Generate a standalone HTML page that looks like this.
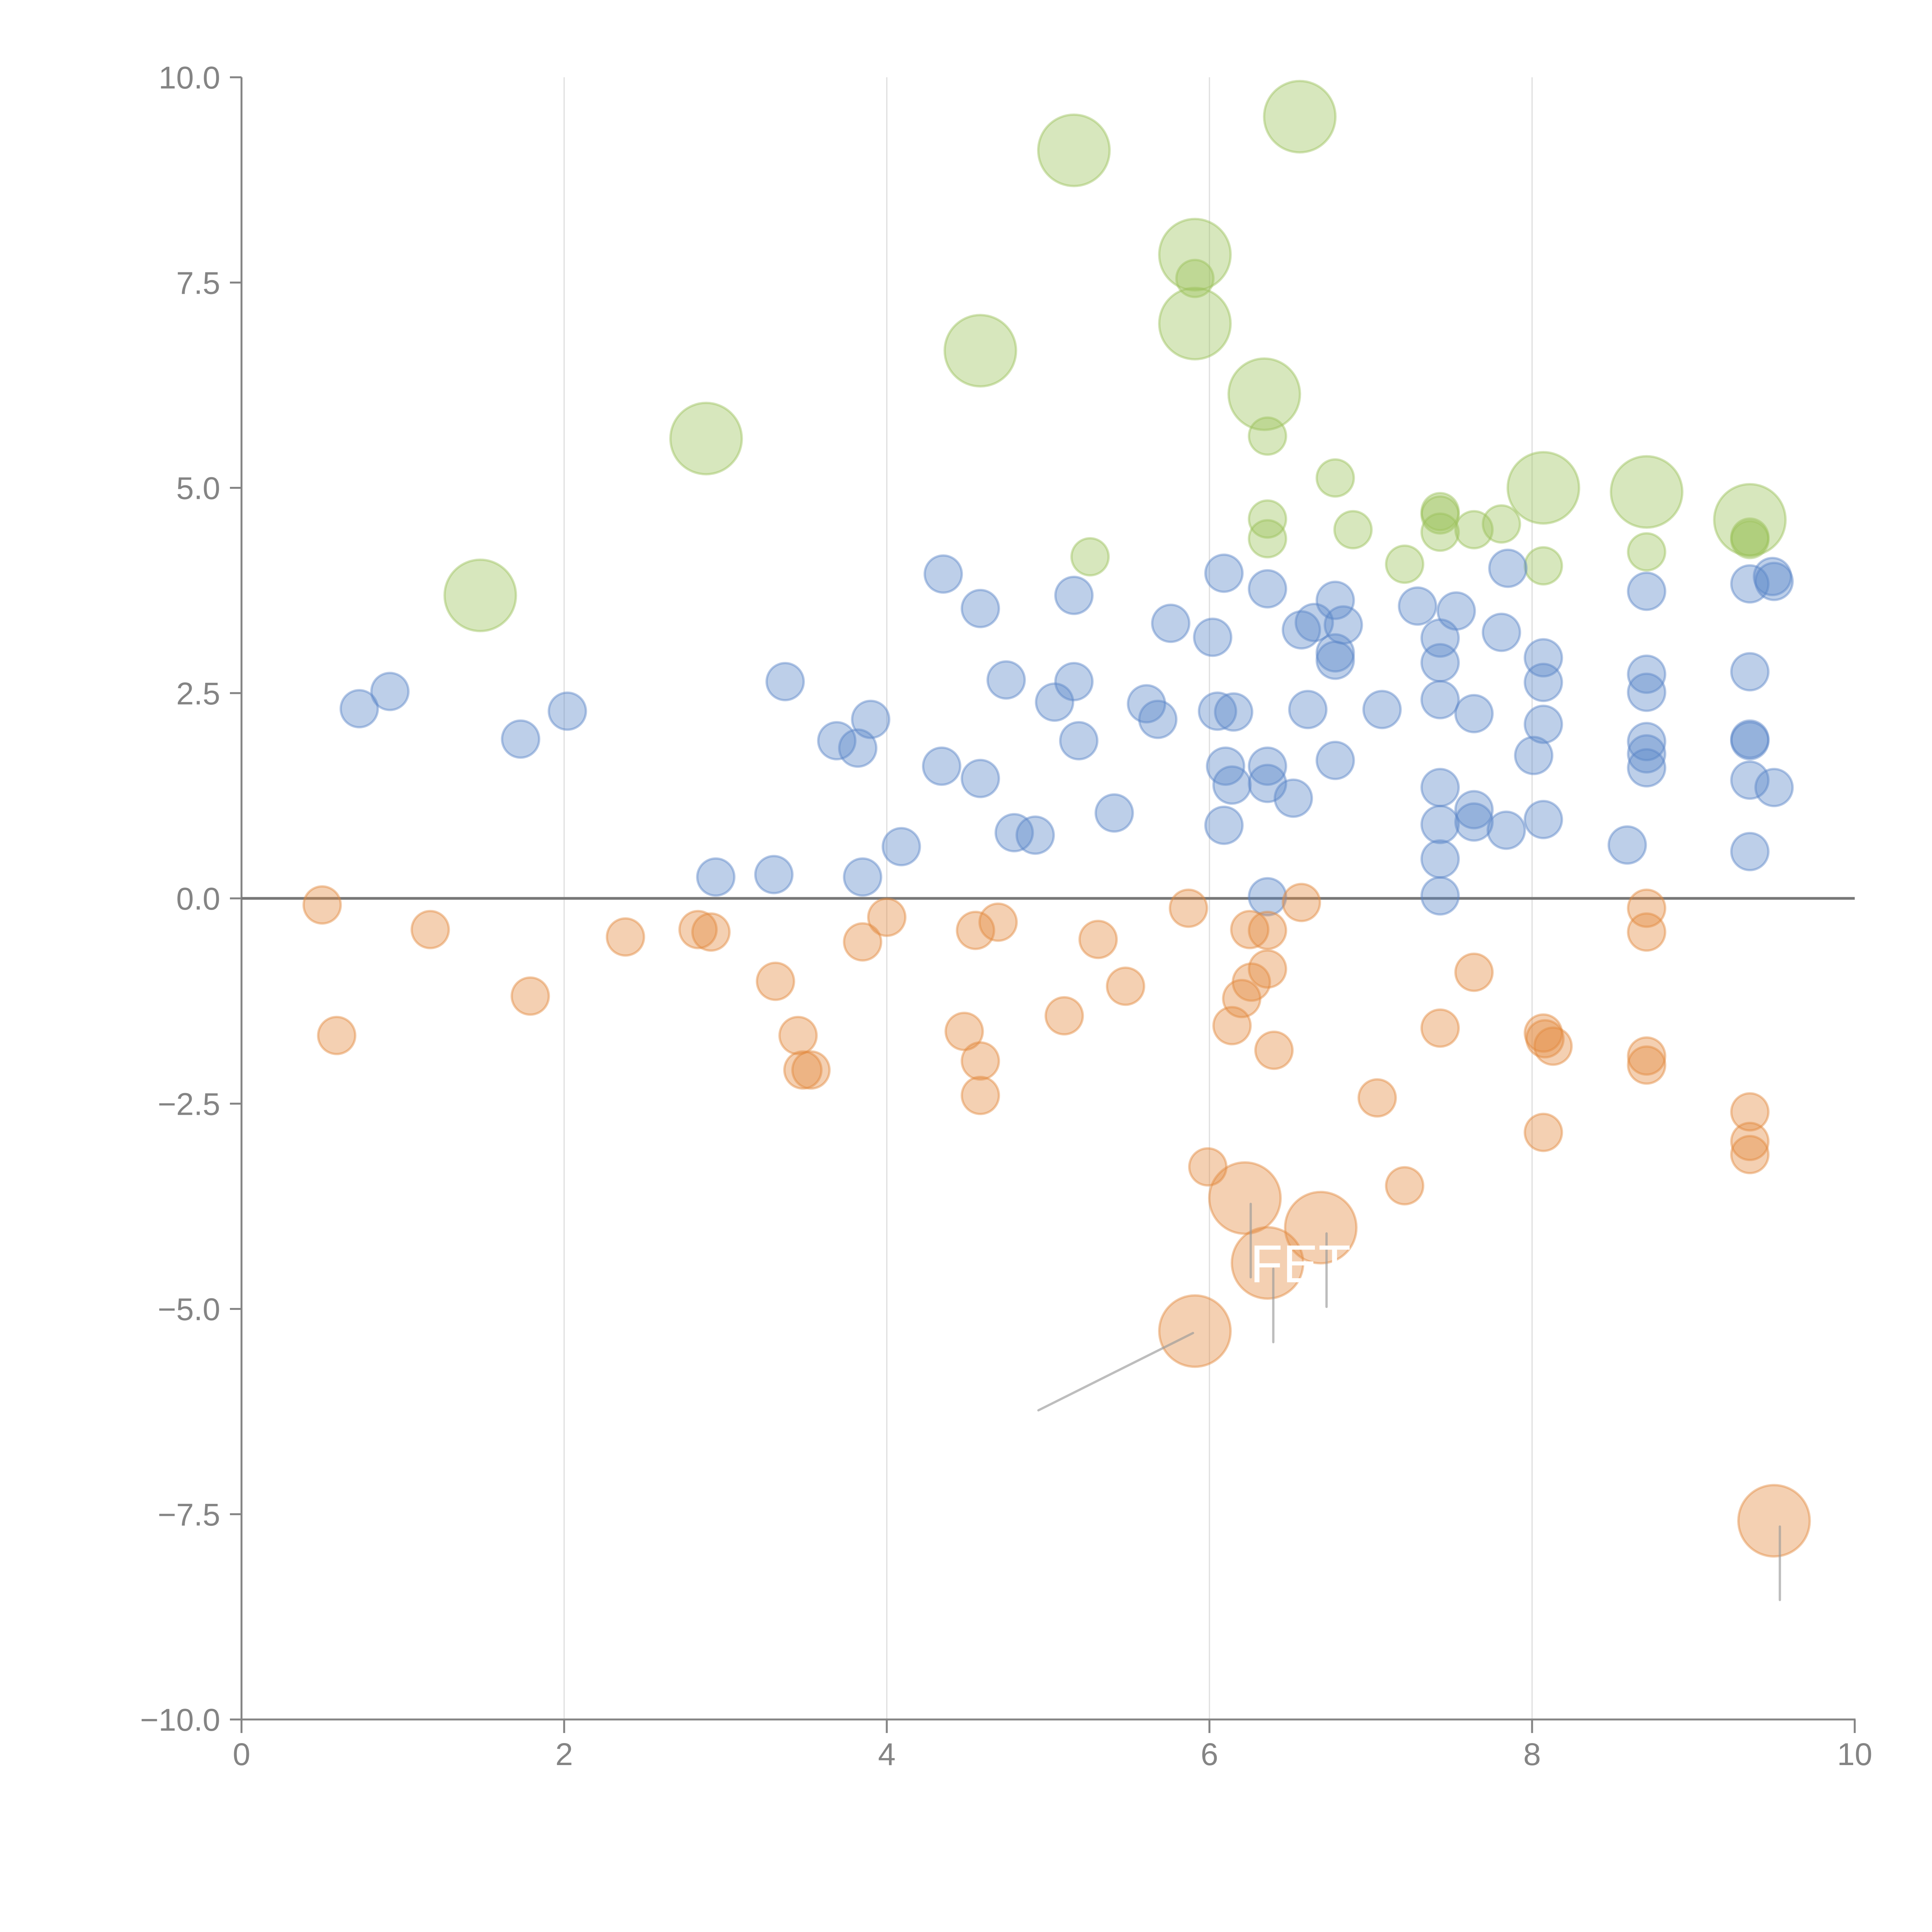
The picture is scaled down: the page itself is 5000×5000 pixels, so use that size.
<!DOCTYPE html>
<html><head><meta charset="utf-8"><style>
html,body{margin:0;padding:0;background:#fff;}
svg{display:block;font-family:"Liberation Sans",Arial,sans-serif;}
</style></head><body>
<svg id="chart" width="5000" height="5000" viewBox="0 0 5000 5000" xmlns="http://www.w3.org/2000/svg">
<g id="grid"></g>
<g id="axes"></g>
<g id="marks"></g>
<g id="annot"></g>
</svg>
<script>
const xTicks = [0, 2, 4, 6, 8, 10];
const xTickLabels = ["0", "2", "4", "6", "8", "10"];
const yTicks = [-10, -7.5, -5, -2.5, 0, 2.5, 5, 7.5, 10];
const yTickLabels = ["\u221210.0", "\u22127.5", "\u22125.0", "\u22122.5", "0.0", "2.5", "5.0", "7.5", "10.0"];

const blueX = [0.73,0.92,1.73,2.02,2.94,3.30,3.37,3.69,3.82,3.90,3.85,4.09,4.35,4.34,4.58,4.58,4.74,4.79,4.92,5.04,5.16,5.16,5.19,5.41,5.61,5.68,5.76,6.02,6.05,6.09,6.10,6.14,6.15,6.09,6.36,6.36,6.36,6.36,6.52,6.57,6.61,6.65,6.78,6.78,6.78,6.83,6.78,7.07,7.29,7.43,7.43,7.43,7.53,7.64,7.43,7.43,7.43,7.43,7.64,7.64,7.81,7.85,7.84,8.01,8.07,8.07,8.07,8.07,8.59,8.71,8.71,8.71,8.71,8.71,8.71,9.35,9.35,9.35,9.35,9.35,9.35,9.49,9.50,9.50];
const blueY = [2.31,2.52,1.94,2.28,0.26,0.29,2.64,1.92,1.83,2.18,0.26,0.63,3.95,1.61,3.53,1.46,2.66,0.80,0.77,2.39,3.69,2.64,1.92,1.04,2.37,2.18,3.35,3.18,2.28,3.96,1.61,1.38,2.27,0.89,3.77,1.61,1.40,0.02,1.22,3.27,2.30,3.36,3.63,2.99,2.90,3.33,1.68,2.30,3.56,3.17,2.87,2.42,3.50,2.25,1.35,0.90,0.48,0.03,1.08,0.93,3.24,4.02,0.83,1.74,2.93,2.63,2.12,0.96,0.65,3.74,2.73,2.51,1.91,1.76,1.59,3.83,2.76,1.94,1.92,1.44,0.57,3.92,3.86,1.35];

const orangeX = [0.50,0.59,1.17,1.79,2.38,2.83,2.91,3.31,3.45,3.48,3.53,3.85,4.00,4.48,4.55,4.58,4.58,4.69,5.10,5.31,5.48,5.87,5.99,6.14,6.20,6.25,6.26,6.36,6.36,6.40,6.57,7.04,7.21,7.43,7.64,8.07,8.08,8.13,8.07,8.71,8.71,8.71,8.71,9.35,9.35,9.35,5.91,6.22,6.36,6.69,9.50];
const orangeY = [-0.08,-1.67,-0.38,-1.19,-0.47,-0.38,-0.41,-1.01,-1.67,-2.09,-2.09,-0.53,-0.23,-1.62,-0.39,-1.98,-2.40,-0.29,-1.43,-0.50,-1.07,-0.12,-3.27,-1.55,-1.22,-0.38,-1.02,-0.39,-0.86,-1.85,-0.05,-2.43,-3.50,-1.58,-0.90,-1.64,-1.71,-1.80,-2.85,-0.12,-0.41,-1.92,-2.03,-2.60,-2.96,-3.12,-5.27,-3.65,-4.44,-4.01,-7.58];
const orangeSize = [1,1,1,1,1,1,1,1,1,1,1,1,1,1,1,1,1,1,1,1,1,1,1,1,1,1,1,1,1,1,1,1,1,1,1,1,1,1,1,1,1,1,1,1,1,1,3.7,3.7,3.7,3.7,3.7];

const greenX = [5.91,6.36,6.78,6.36,6.36,6.89,5.26,7.21,7.43,7.43,7.43,7.64,7.81,8.07,8.71,9.35,9.35,1.48,2.88,4.58,5.16,5.91,5.91,6.34,6.56,8.07,8.71,9.35];
const greenY = [7.55,5.63,5.12,4.62,4.38,4.49,4.16,4.07,4.71,4.67,4.46,4.49,4.56,4.05,4.22,4.40,4.37,3.69,5.60,6.67,9.11,7.84,7.00,6.14,9.52,5.00,4.95,4.61];
const greenSize = [1,1,1,1,1,1,1,1,1,1,1,1,1,1,1,1,1,3.7,3.7,3.7,3.7,3.7,3.7,3.7,3.7,3.7,3.7,3.7];

const NS = "http://www.w3.org/2000/svg";
const X0 = 625, X1 = 4800, Y0 = 4450, Y1 = 200;
function sx(v){ return X0 + (v - 0) / 10 * (X1 - X0); }
function sy(v){ return Y0 - (v + 10) / 20 * (Y0 - Y1); }
function rr(s){ return 48 * Math.sqrt(s); }
function mk(tag, attrs, parent){
  const el = document.createElementNS(NS, tag);
  for (const k in attrs) el.setAttribute(k, attrs[k]);
  parent.appendChild(el);
  return el;
}
const grid = document.getElementById('grid');
const axes = document.getElementById('axes');
const marks = document.getElementById('marks');
const annot = document.getElementById('annot');
const gray = '#848484';

[2,4,6,8].forEach(v => {
  const l = mk('line', {x1: sx(v), x2: sx(v), y1: sy(10), y2: sy(-10), stroke: '#dedede', 'stroke-width': 3}, grid);
  
  
});

let a = mk('line', {x1: X0, x2: X0, y1: sy(10), y2: sy(-10) + 2, stroke: gray, 'stroke-width': 5}, axes);


a = mk('line', {x1: X0 - 2, x2: X1 + 2, y1: Y0, y2: Y0, stroke: gray, 'stroke-width': 5}, axes);



yTicks.forEach((v, i) => {
  const t = mk('line', {x1: X0 - 30, x2: X0, y1: sy(v), y2: sy(v), stroke: gray, 'stroke-width': 5}, axes);
  
  
  const tx = mk('text', {x: X0 - 55, y: sy(v) + 29, 'text-anchor': 'end', 'font-size': 82, fill: gray}, axes);
  tx.textContent = yTickLabels[i];
  
  
});
xTicks.forEach((v, i) => {
  const t = mk('line', {x1: sx(v), x2: sx(v), y1: Y0, y2: Y0 + 35, stroke: gray, 'stroke-width': 5}, axes);
  
  
  const tx = mk('text', {x: sx(v), y: Y0 + 118, 'text-anchor': 'middle', 'font-size': 82, fill: gray}, axes);
  tx.textContent = xTickLabels[i];
  
  
});

const zl = mk('line', {x1: sx(0), x2: sx(10), y1: sy(0), y2: sy(0), stroke: '#777', 'stroke-width': 7}, axes);



function drawSeries(xs, ys, sizes, color, name){
  xs.forEach((x, i) => {
    const c = mk('circle', {cx: sx(x), cy: sy(ys[i]), r: rr(sizes ? sizes[i] : 1),
      fill: color, 'fill-opacity': 0.4, stroke: color, 'stroke-opacity': 0.45, 'stroke-width': 6}, marks);
    
    
  });
}
drawSeries(greenX, greenY, greenSize, '#9cc25a', 'green-bubble');
drawSeries(blueX, blueY, null, '#5b86c8', 'blue-bubble');
drawSeries(orangeX, orangeY, orangeSize, '#e3893e', 'orange-bubble');

const leadIdx = [47, 48, 49, 50];
leadIdx.forEach(i => {
  const l = mk('line', {x1: sx(orangeX[i]) + 15, x2: sx(orangeX[i]) + 15, y1: sy(orangeY[i]) + 15, y2: sy(orangeY[i]) + 205,
    stroke: '#999', 'stroke-opacity': 0.65, 'stroke-width': 6, 'stroke-linecap': 'round'}, annot);
  
  
});
const ll = mk('line', {x1: sx(orangeX[46]) - 5, y1: sy(orangeY[46]) + 5, x2: sx(orangeX[46]) - 405, y2: sy(orangeY[46]) + 205,
  stroke: '#999', 'stroke-opacity': 0.65, 'stroke-width': 6, 'stroke-linecap': 'round'}, annot);



const fet = mk('text', {x: sx(orangeX[48]) - 45, y: sy(orangeY[48]) + 50, 'font-size': 138, fill: '#fff'}, annot);
fet.textContent = 'FET';


</script>
</body></html>
